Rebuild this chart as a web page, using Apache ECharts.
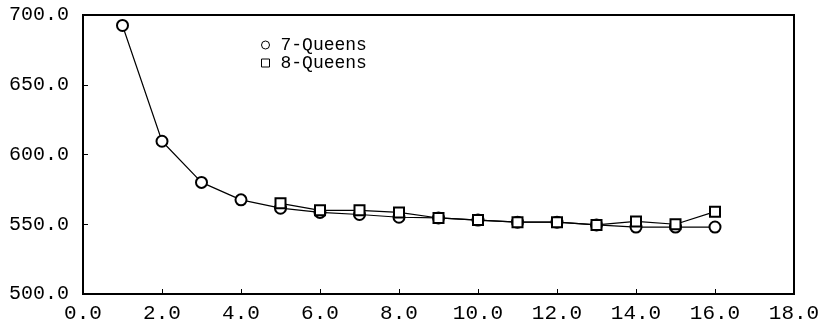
<!DOCTYPE html>
<html><head><meta charset="utf-8">
<script src="https://cdn.jsdelivr.net/npm/echarts@6/dist/echarts.min.js"></script>
<style>html,body{margin:0;padding:0;background:#fff}#c{width:833px;height:327px}</style>
</head><body><div id="c"></div>
<script>
var xs7 = [1,2,3,4,5,6,7,8,9,10,11,12,13,14,15,16];
var q7 = [692.5,609.5,580,567.5,561.5,558.5,557,555,554.5,553,551.5,551.5,549.5,548,548,548];
var xs8 = [5,6,7,8,9,10,11,12,13,14,15,16];
var q8 = [565,560,560,558.5,554.5,553,551.5,551.5,549.5,552,550,559];
var xTicks = ['0.0','2.0','4.0','6.0','8.0','10.0','12.0','14.0','16.0','18.0'];
var yTicks = ['500.0','550.0','600.0','650.0','700.0'];

function pairs(xs, ys){ return xs.map(function(x,i){return [x, ys[i]];}); }
var font = 'Liberation Mono';
var chart = echarts.init(document.getElementById('c'));
chart.setOption({
  animation:false,
  backgroundColor:'#fff',
  grid:{left:83,right:39,top:15,bottom:33,show:true,borderColor:'#000',borderWidth:2,backgroundColor:'transparent'},
  xAxis:{type:'value',min:0,max:18,interval:2,
    axisLine:{lineStyle:{color:'#000',width:2}},
    axisTick:{inside:true,length:5,lineStyle:{color:'#000'}},
    splitLine:{show:false},
    axisLabel:{color:'#000',fontFamily:font,fontSize:21,margin:9,
      formatter:function(v){return xTicks[Math.round(v/2)];}}},
  yAxis:{type:'value',min:500,max:700,interval:50,
    axisLine:{show:true,lineStyle:{color:'#000',width:2}},
    axisTick:{show:true,inside:true,length:5,lineStyle:{color:'#000'}},
    splitLine:{show:false},
    axisLabel:{color:'#000',fontFamily:font,fontSize:20,margin:14,
      formatter:function(v){return yTicks[Math.round((v-500)/50)];}}},
  legend:{left:256,top:31,orient:'vertical',itemGap:0,itemWidth:8,itemHeight:8,
    textStyle:{fontFamily:font,fontSize:18,color:'#000',lineHeight:15,padding:[0,0,0,6]},
    data:[{name:'7-Queens',icon:'circle'},{name:'8-Queens',icon:'rect'}],
    itemStyle:{color:'#fff',borderColor:'#000',borderWidth:1}},
  series:[
    {name:'7-Queens',type:'line',data:pairs(xs7,q7),symbol:'emptyCircle',symbolSize:11,
      lineStyle:{color:'#000',width:1.2},itemStyle:{color:'#000',borderColor:'#000',borderWidth:1}},
    {name:'8-Queens',type:'line',data:pairs(xs8,q8),symbol:'emptyRect',symbolSize:10,
      lineStyle:{color:'#000',width:1.2},itemStyle:{color:'#000',borderColor:'#000',borderWidth:1}}
  ]
});
</script></body></html>
